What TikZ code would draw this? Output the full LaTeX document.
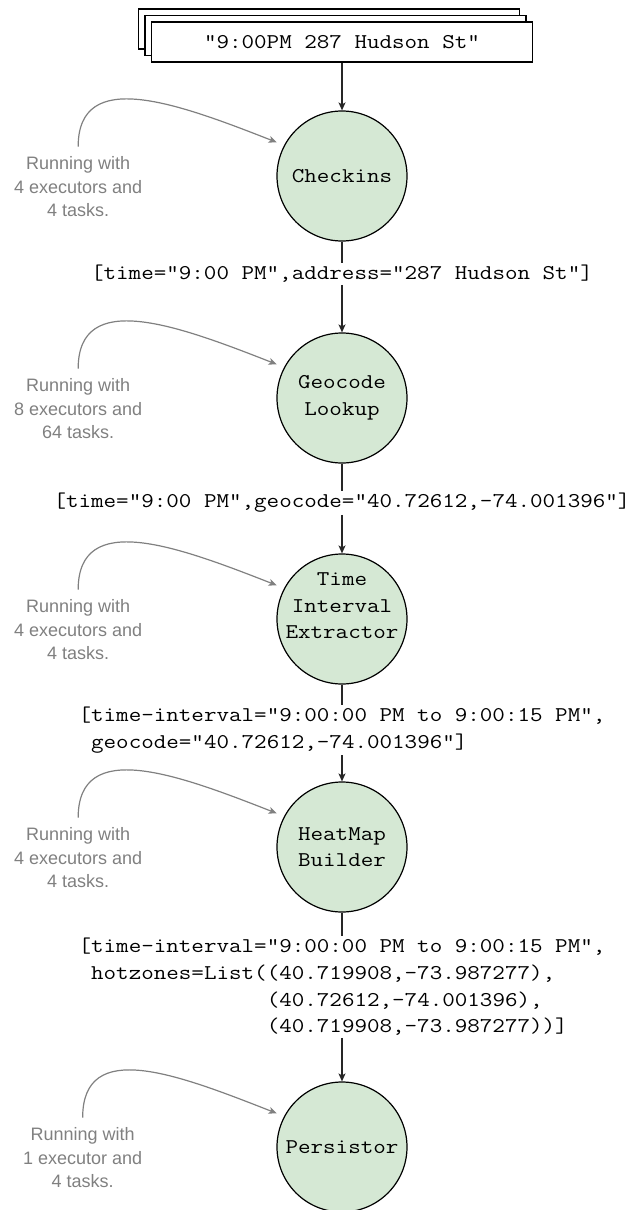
\documentclass[tikz,border=0pt]{standalone}
\usepackage{fontspec}
\usepackage{tikz}
\usetikzlibrary{positioning,arrows.meta}
\newfontfamily\codefont[FakeStretch=1.16]{Latin Modern Mono}
\newfontfamily\notefont{Liberation Sans}
\definecolor{stagegreen}{HTML}{D5E8D4}
\definecolor{notegray}{HTML}{808080}

\begin{document}
\begin{tikzpicture}[x=1pt,y=-1pt,
    code/.style={font=\codefont\fontsize{21pt}{26.6pt}\selectfont},
    srcbox/.style={code,draw,fill=white,line width=1.2pt,minimum width=381pt,minimum height=40pt,inner sep=0pt},
    stage/.style={code,circle,draw,fill=stagegreen,line width=1.2pt,minimum size=130pt,inner sep=0pt,align=center},
    record/.style={code,fill=white,inner sep=2pt,align=left},
    note/.style={font=\notefont\fontsize{18pt}{23.5pt}\selectfont,text=notegray,align=center,inner sep=0pt},
    flow/.style={line width=1.2pt,draw=black!85},
    flowarrow/.style={flow,-{Stealth[length=8pt,width=7pt,inset=2pt]}},
    notearrow/.style={line width=1.2pt,draw=notegray,-{Stealth[length=8pt,width=7pt,inset=2pt]},shorten <=10pt,shorten >=8pt}]
  \useasboundingbox (0,0) rectangle (633,1210);

  % input records (stacked)
  \node[srcbox] (src3) at (329,29) {};
  \node[srcbox] (src2) at (335.5,35.5) {};
  \node[srcbox] (src) at (342,42) {"9:00PM 287 Hudson St"};

  % stages and the records between them
  \node[stage] (chk) at (342,176) {Checkins};
  \node[record] (l1) at (342,274) {[time="9:00 PM",address="287 Hudson St"]};
  \node[stage] (geo) at (342,398) {Geocode\\Lookup};
  \node[record] (l2) at (342,503) {[time="9:00 PM",geocode="40.72612,-74.001396"]};
  \node[stage] (tie) at (342,619) {\raisebox{7pt}[0pt][0pt]{\begin{tabular}{@{}c@{}}Time\\Interval\\Extractor\end{tabular}}};
  \node[record] (l3) at (342,730) {[time-interval="9:00:00 PM to 9:00:15 PM",\\
    \phantom{[}geocode="40.72612,-74.001396"]};
  \node[stage] (heat) at (342,847) {HeatMap\\Builder};
  \node[record] (l4) at (342,987) {[time-interval="9:00:00 PM to 9:00:15 PM",\\
    \phantom{[}hotzones=List((40.719908,-73.987277),\\
    \phantom{[hotzones=List(}(40.72612,-74.001396),\\
    \phantom{[hotzones=List(}(40.719908,-73.987277))]};
  \node[stage] (per) at (342,1147) {Persistor};

  % executor notes
  \node[note,left=134pt of chk,yshift=-11pt] (n1) {Running with\\4 executors and\\4 tasks.};
  \node[note,left=134pt of geo,yshift=-11pt] (n2) {Running with\\8 executors and\\64 tasks.};
  \node[note,left=134pt of tie,yshift=-11pt] (n3) {Running with\\4 executors and\\4 tasks.};
  \node[note,left=134pt of heat,yshift=-11pt] (n4) {Running with\\4 executors and\\4 tasks.};
  \node[note,left=134pt of per,yshift=-11pt] (n5) {Running with\\1 executor and\\4 tasks.};

  \draw[flowarrow] (src) -- (chk);
  \draw[flow] (chk) -- (l1);
  \draw[flowarrow] (l1) -- (geo);
  \draw[flow] (geo) -- (l2);
  \draw[flowarrow] (l2) -- (tie);
  \draw[flow] (tie) -- (l3);
  \draw[flowarrow] (l3) -- (heat);
  \draw[flow] (heat) -- (l4);
  \draw[flowarrow] (l4) -- (per);

  \draw[notearrow] (n1.north) .. controls +(0,-90) and +(-107,-42) .. (chk.152);
  \draw[notearrow] (n2.north) .. controls +(0,-90) and +(-107,-42) .. (geo.152);
  \draw[notearrow] (n3.north) .. controls +(0,-90) and +(-107,-42) .. (tie.152);
  \draw[notearrow] (n4.north) .. controls +(0,-90) and +(-107,-42) .. (heat.152);
  \draw[notearrow] (n5.north) .. controls +(0,-90) and +(-107,-42) .. (per.152);
\end{tikzpicture}
\end{document}
